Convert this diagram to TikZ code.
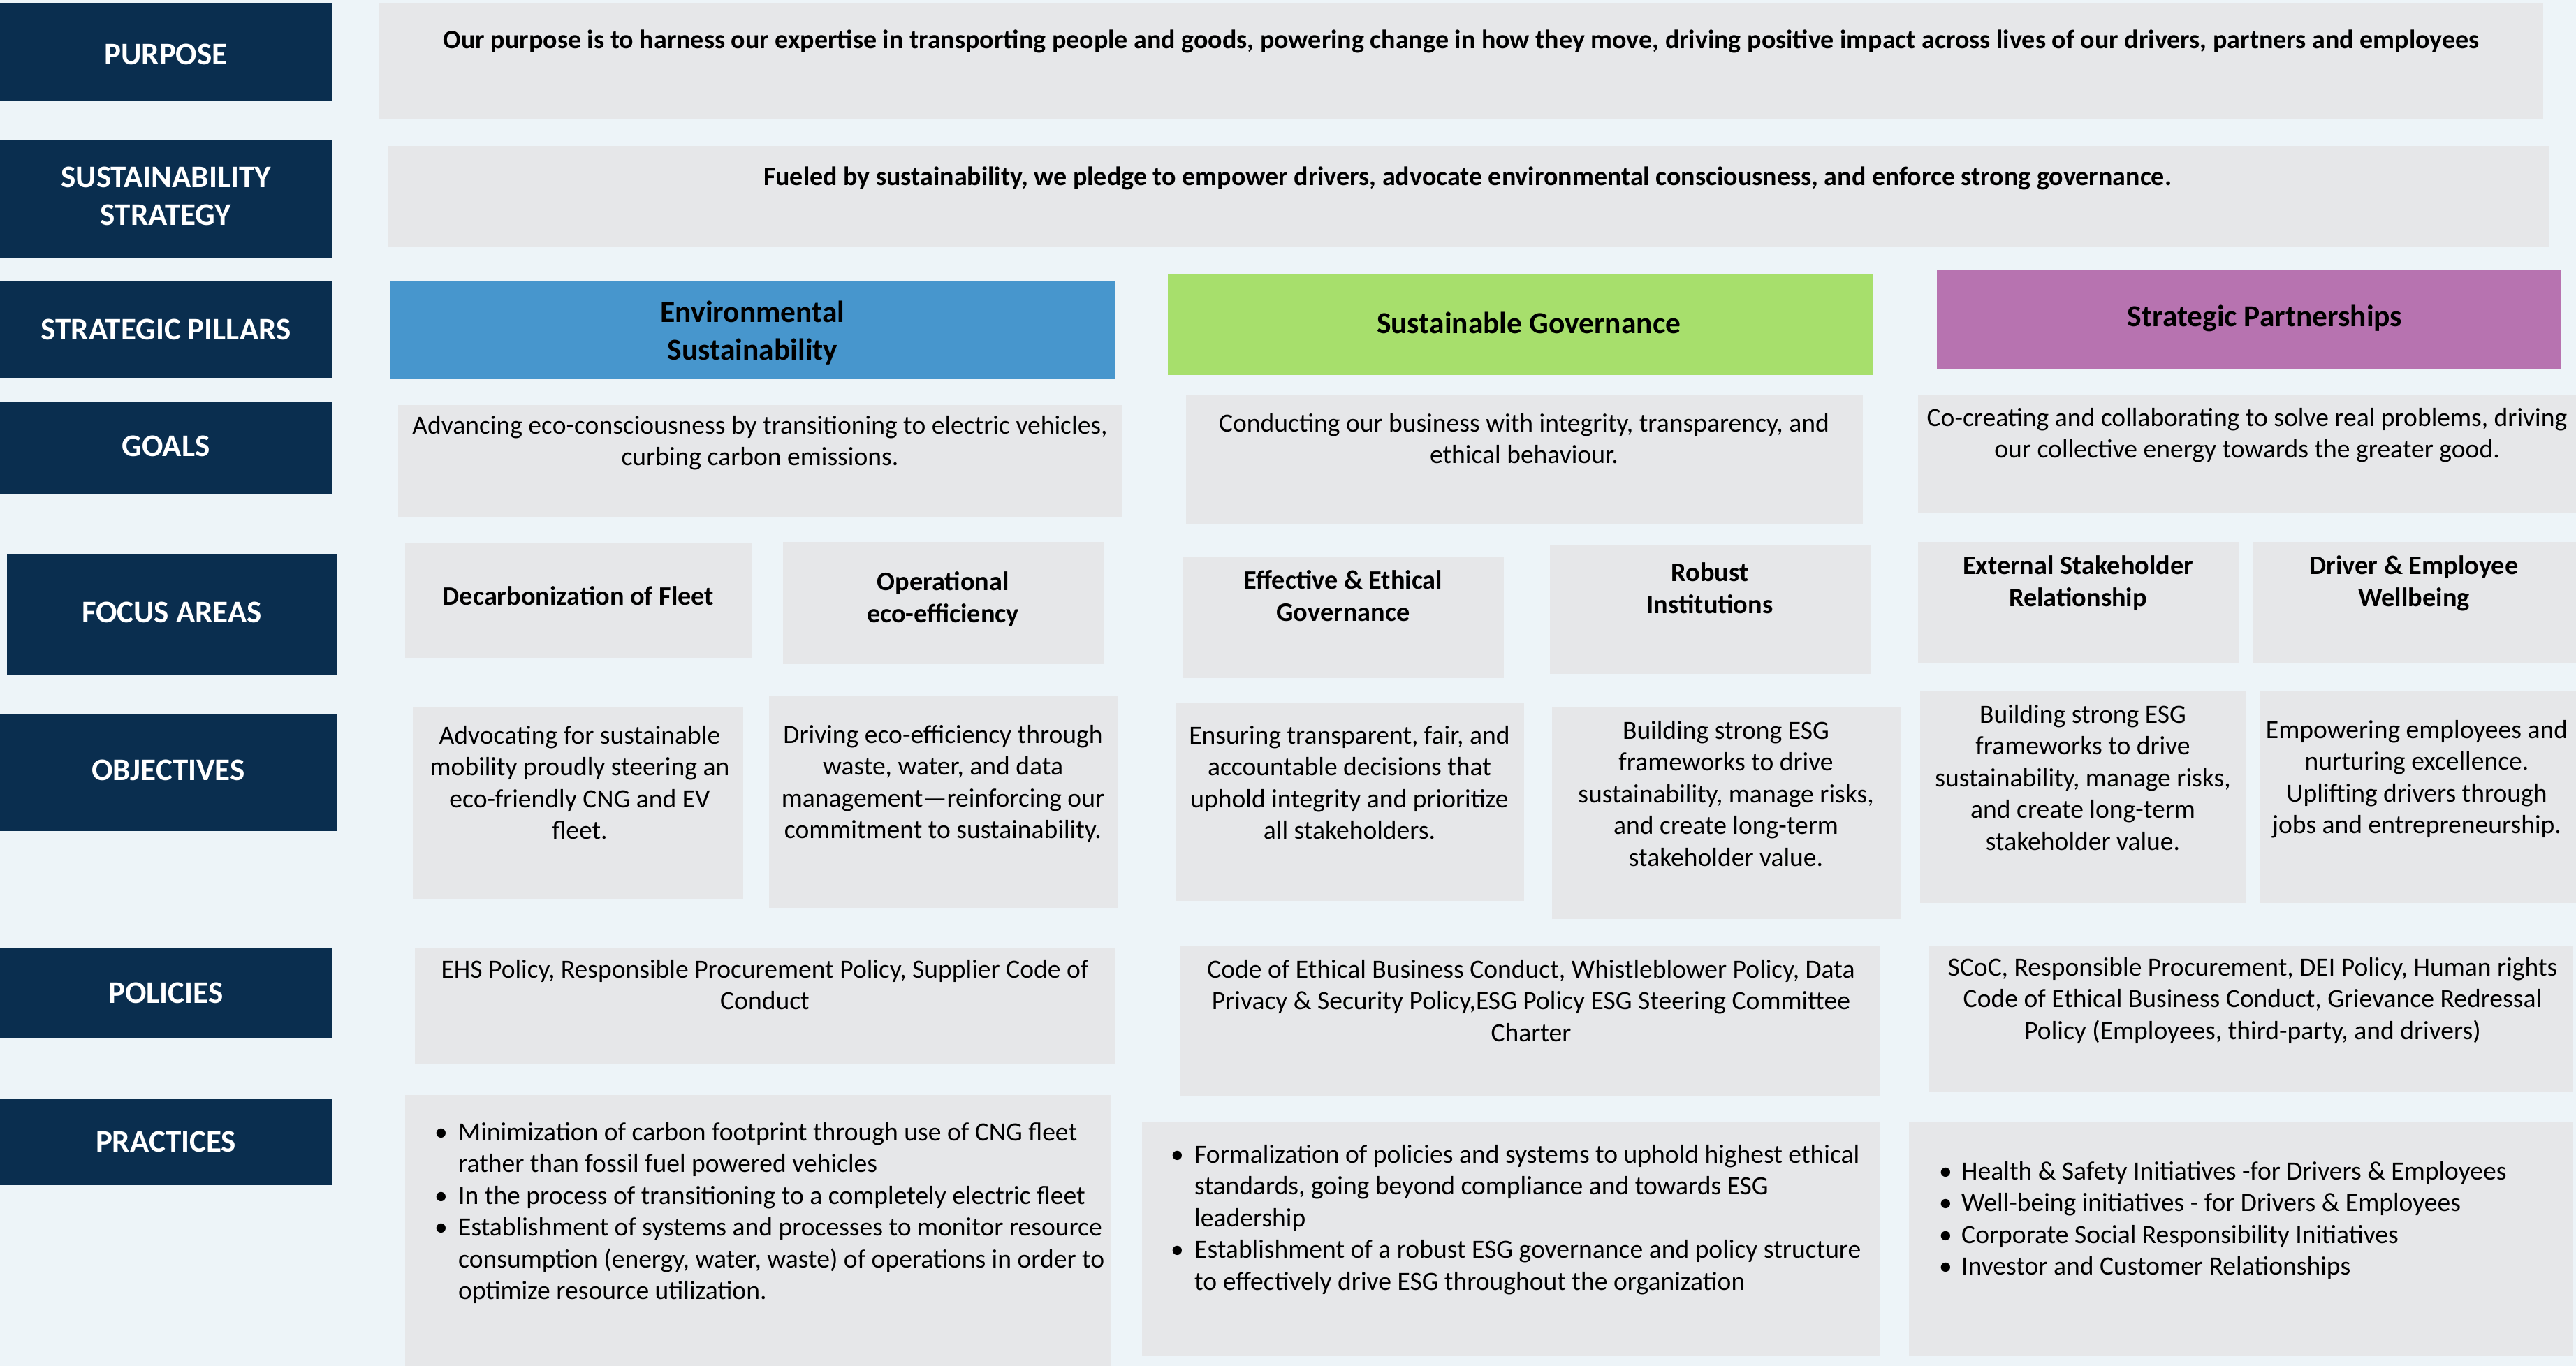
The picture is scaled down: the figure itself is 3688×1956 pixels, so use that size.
\documentclass[tikz,border=0pt]{standalone}
\usepackage{fontspec}
\setmainfont{Carlito}
\usetikzlibrary{fit}
\definecolor{bgc}{RGB}{237,244,248}
\definecolor{navy}{RGB}{10,46,79}
\definecolor{boxg}{RGB}{230,231,233}
\definecolor{pblue}{RGB}{71,150,205}
\definecolor{pgreen}{RGB}{167,223,108}
\definecolor{ppurple}{RGB}{183,115,176}
\newcommand\labf{\fontsize{45}{54}\selectfont\bfseries}
\newcommand\bodyf{\fontsize{37.6}{45.5}\selectfont}
\newcommand\boldf{\fontsize{38.3}{46}\selectfont\bfseries}
\newcommand\headf{\fontsize{38}{46}\selectfont\bfseries}
\newcommand\pilf{\fontsize{43.5}{54}\selectfont\bfseries}
\newcommand\fst{\rule{0pt}{31pt}}
\newcommand\bul[1]{\makebox[#1][l]{\textbullet}}
\newcommand\ind[1]{\hspace*{#1}}
\tikzset{
  lab/.style={fill=navy, inner sep=0},
  labt/.style={text=white, inner sep=0, font=\labf, align=center},
  gbox/.style={fill=boxg, inner sep=0},
  pil/.style={inner sep=0},
  pilt/.style={inner sep=0, font=\pilf, align=center},
  body/.style={font=\bodyf, align=center, inner sep=0, anchor=north, yshift=12pt, execute at begin node=\fst},
  ttl/.style={font=\boldf, align=center, inner sep=0, anchor=north, yshift=12pt, execute at begin node=\fst},
  head/.style={font=\headf, align=center, inner sep=0, anchor=north, yshift=12pt, execute at begin node=\fst},
  blist/.style={font=\bodyf, align=left, inner sep=0, anchor=north west, yshift=12pt, execute at begin node=\fst},
}
\begin{document}
\begin{tikzpicture}[x=1pt,y=-1pt]
\fill[bgc] (0,0) rectangle (3688,1956);
\useasboundingbox (0,0) rectangle (3688,1956);
% left labels
\node[lab, fit={(0,5) (475,145)}] (lP) {};
\node[labt] (lPt) at ([yshift=-3pt]lP.center) {PURPOSE};
\node[lab, fit={(0,200) (475,369)}] (lS) {};
\node[labt] (lSt) at ([yshift=4pt]lS.center) {SUSTAINABILITY\\STRATEGY};
\node[lab, fit={(0,402) (475,541)}] (lSP) {};
\node[labt] (lSPt) at (lSP.center) {STRATEGIC PILLARS};
\node[lab, fit={(0,576) (475,707)}] (lG) {};
\node[labt] (lGt) at ([yshift=3pt]lG.center) {GOALS};
\node[lab, fit={(10,793) (482,966)}] (lF) {};
\node[labt] (lFt) at ([yshift=3pt]lF.center) {FOCUS AREAS};
\node[lab, fit={(0,1023) (482,1190)}] (lO) {};
\node[labt] (lOt) at ([yshift=4pt]lO.center) {OBJECTIVES};
\node[lab, fit={(0,1358) (475,1486)}] (lPo) {};
\node[labt] (lPot) at (lPo.center) {POLICIES};
\node[lab, fit={(0,1573) (475,1697)}] (lPr) {};
\node[labt] (lPrt) at (lPr.center) {PRACTICES};
% purpose and strategy
\node[gbox, fit={(543,5) (3641,171)}] (bP) {};
\node[head] (tP) at (2092,50) {Our purpose is to harness our expertise in transporting people and goods, powering change in how they move, driving positive impact across lives of our drivers, partners and employees};
\node[gbox, fit={(555,209) (3650,354)}] (bS) {};
\node[head] (tS) at (2101,246) {Fueled by sustainability, we pledge to empower drivers, advocate environmental consciousness, and enforce strong governance.};
% pillars
\node[pil, fill=pblue, fit={(559,402) (1596,542)}] (pE) {};
\node[pilt] (pEt) at ([yshift=-5pt]pE.center) {Environmental\\Sustainability};
\node[pil, fill=pgreen, fit={(1672,393) (2681,537)}] (pG) {};
\node[pilt] (pGt) at ([xshift=12pt,yshift=3pt]pG.center) {Sustainable Governance};
\node[pil, fill=ppurple, fit={(2773,387) (3666,528)}] (pP) {};
\node[pilt] (pPt) at ([xshift=23pt,yshift=2pt]pP.center) {Strategic Partnerships};
% goals
\node[gbox, fit={(570,580) (1606,741)}] (gE) {};
\node[body] (gEt) at (1088,607) {Advancing eco-consciousness by transitioning to electric vehicles,\\curbing carbon emissions.};
\node[gbox, fit={(1698,566) (2667,750)}] (gG) {};
\node[body] (gGt) at (2182,604) {Conducting our business with integrity, transparency, and\\ethical behaviour.};
\node[gbox, fit={(2746,566) (3688,735)}] (gP) {};
\node[body] (gPt) at (3217,596) {Co-creating and collaborating to solve real problems, driving\\our collective energy towards the greater good.};
% focus areas
\node[gbox, fit={(580,778) (1077,942)}] (f1) {};
\node[ttl] (f1t) at (828,847) {Decarbonization of Fleet};
\node[gbox, fit={(1121,776) (1580,951)}] (f2) {};
\node[ttl] (f2t) at (1350,830) {Operational\\eco-efficiency};
\node[gbox, fit={(1694,798) (2153,971)}] (f3) {};
\node[ttl] (f3t) at (1923,828) {Effective \& Ethical\\Governance};
\node[gbox, fit={(2219,781) (2678,965)}] (f4) {};
\node[ttl] (f4t) at (2448,817) {Robust\\Institutions};
\node[gbox, fit={(2746,776) (3205,950)}] (f5) {};
\node[ttl] (f5t) at (2975,807) {External Stakeholder\\Relationship};
\node[gbox, fit={(3226,776) (3688,950)}] (f6) {};
\node[ttl] (f6t) at (3456,807) {Driver \& Employee\\Wellbeing};
% objectives
\node[gbox, fit={(591,1013) (1064,1288)}] (o1) {};
\node[body] (o1t) at (830,1051) {Advocating for sustainable\\mobility proudly steering an\\eco-friendly CNG and EV\\fleet.};
\node[gbox, fit={(1101,997) (1601,1300)}] (o2) {};
\node[body] (o2t) at (1350,1050) {Driving eco-efficiency through\\waste, water, and data\\management—reinforcing our\\commitment to sustainability.};
\node[gbox, fit={(1683,1007) (2182,1290)}] (o3) {};
\node[body] (o3t) at (1932,1051) {Ensuring transparent, fair, and\\accountable decisions that\\uphold integrity and prioritize\\all stakeholders.};
\node[gbox, fit={(2222,1013) (2721,1316)}] (o4) {};
\node[body] (o4t) at (2471,1044) {Building strong ESG\\frameworks to drive\\sustainability, manage risks,\\and create long-term\\stakeholder value.};
\node[gbox, fit={(2749,990) (3215,1293)}] (o5) {};
\node[body] (o5t) at (2982,1021) {Building strong ESG\\frameworks to drive\\sustainability, manage risks,\\and create long-term\\stakeholder value.};
\node[gbox, fit={(3235,990) (3688,1293)}] (o6) {};
\node[body] (o6t) at (3460,1043) {Empowering employees and\\nurturing excellence.\\Uplifting drivers through\\jobs and entrepreneurship.};
% policies
\node[gbox, fit={(594,1358) (1596,1523)}] (po1) {};
\node[body] (po1t) at (1095,1386) {EHS Policy, Responsible Procurement Policy, Supplier Code of\\Conduct};
\node[gbox, fit={(1689,1354) (2692,1569)}] (po2) {};
\node[body] (po2t) at (2192,1386) {Code of Ethical Business Conduct, Whistleblower Policy, Data\\Privacy \& Security Policy,ESG Policy ESG Steering Committee\\Charter};
\node[gbox, fit={(2762,1354) (3684,1564)}] (po3) {};
\node[body] (po3t) at (3225,1383) {SCoC, Responsible Procurement, DEI Policy, Human rights\\Code of Ethical Business Conduct, Grievance Redressal\\Policy (Employees, third-party, and drivers)};
% practices
\node[gbox, fit={(580,1568) (1591,1956)}] (pr1) {};
\node[blist] (pr1t) at (622,1619) {\bul{34pt}Minimization of carbon footprint through use of CNG fleet\\\ind{34pt}rather than fossil fuel powered vehicles\\\bul{34pt}In the process of transitioning to a completely electric fleet\\\bul{34pt}Establishment of systems and processes to monitor resource\\\ind{34pt}consumption (energy, water, waste) of operations in order to\\\ind{34pt}optimize resource utilization.};
\node[gbox, fit={(1635,1607) (2692,1942)}] (pr2) {};
\node[blist] (pr2t) at (1676,1651) {\bul{34pt}Formalization of policies and systems to uphold highest ethical\\\ind{34pt}standards, going beyond compliance and towards ESG\\\ind{34pt}leadership\\\bul{34pt}Establishment of a robust ESG governance and policy structure\\\ind{34pt}to effectively drive ESG throughout the organization};
\node[gbox, fit={(2733,1607) (3684,1942)}] (pr3) {};
\node[blist] (pr3t) at (2776,1675) {\bul{32pt}Health \& Safety Initiatives -for Drivers \& Employees\\\bul{32pt}Well-being initiatives - for Drivers \& Employees\\\bul{32pt}Corporate Social Responsibility Initiatives\\\bul{32pt}Investor and Customer Relationships};
\end{tikzpicture}
\end{document}
